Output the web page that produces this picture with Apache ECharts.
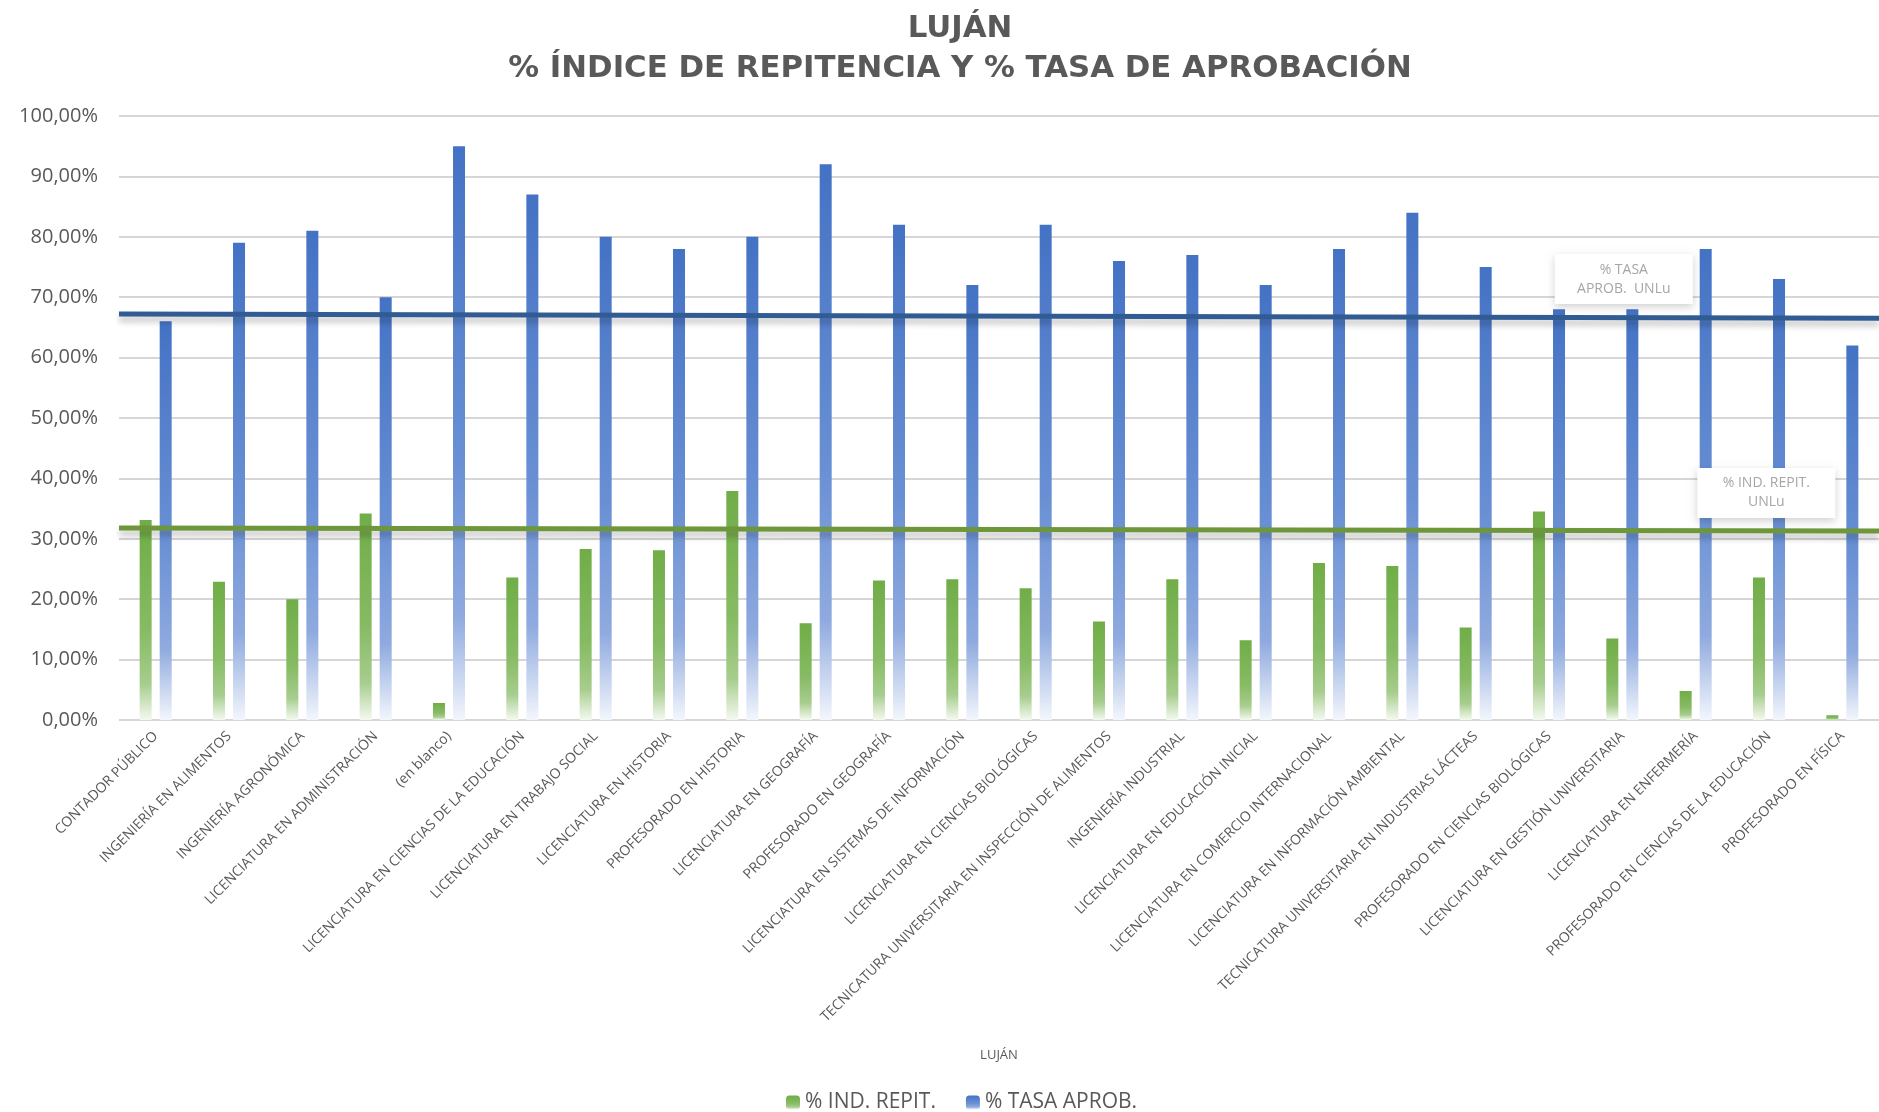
<!doctype html>
<html lang="es">
<head>
    <meta charset="UTF-8">
    <title>Luján - Índice de repitencia y tasa de aprobación</title>
    <script src="https://cdn.jsdelivr.net/npm/echarts@6/dist/echarts.min.js"></script>
    <style>
        html, body { margin: 0; padding: 0; background: #fff; }
        #mainChart { width: 1879px; height: 1112px; }
    </style>
</head>
<body>
<div id="mainChart"></div>
<script>
    // datos (en %)
    let carreras = [
        'CONTADOR PÚBLICO',
        'INGENIERÍA EN ALIMENTOS',
        'INGENIERÍA AGRONÓMICA',
        'LICENCIATURA EN ADMINISTRACIÓN',
        '(en blanco)',
        'LICENCIATURA EN CIENCIAS DE LA EDUCACIÓN',
        'LICENCIATURA EN TRABAJO SOCIAL',
        'LICENCIATURA EN HISTORIA',
        'PROFESORADO EN HISTORIA',
        'LICENCIATURA EN GEOGRAFÍA',
        'PROFESORADO EN GEOGRAFÍA',
        'LICENCIATURA EN SISTEMAS DE INFORMACIÓN',
        'LICENCIATURA EN CIENCIAS BIOLÓGICAS',
        'TECNICATURA UNIVERSITARIA EN INSPECCIÓN DE ALIMENTOS',
        'INGENIERÍA INDUSTRIAL',
        'LICENCIATURA EN EDUCACIÓN INICIAL',
        'LICENCIATURA EN COMERCIO INTERNACIONAL',
        'LICENCIATURA EN INFORMACIÓN AMBIENTAL',
        'TECNICATURA UNIVERSITARIA EN INDUSTRIAS LÁCTEAS',
        'PROFESORADO EN CIENCIAS BIOLÓGICAS',
        'LICENCIATURA EN GESTIÓN UNIVERSITARIA',
        'LICENCIATURA EN ENFERMERÍA',
        'PROFESORADO EN CIENCIAS DE LA EDUCACIÓN',
        'PROFESORADO EN FÍSICA'
    ];
    let indRepit = [33.1, 22.9, 20.0, 34.2, 2.8, 23.6, 28.3, 28.1, 37.9, 16.0, 23.1, 23.3,
        21.8, 16.3, 23.3, 13.2, 26.0, 25.5, 15.3, 34.5, 13.5, 4.8, 23.6, 0.8];
    let tasaAprob = [66, 79, 81, 70, 95, 87, 80, 78, 80, 92, 82, 72,
        82, 76, 77, 72, 78, 84, 75, 68, 68, 78, 73, 62];
    // promedios UNLu (inicio y fin de la recta)
    let tasaUNLu = [67.2, 66.5];
    let repitUNLu = [31.8, 31.3];
    let yTicks = [0, 10, 20, 30, 40, 50, 60, 70, 80, 90, 100];

    let myChart = echarts.init(document.getElementById('mainChart'));
    let gray = '#595959';
    let font = '"Open Sans", sans-serif';

    function grad(c0, c1, c2, c3) {
        return new echarts.graphic.LinearGradient(0, 0, 0, 1, [
            {offset: 0, color: c0},
            {offset: 0.55, color: c1},
            {offset: 0.82, color: c2},
            {offset: 1, color: c3}
        ]);
    }

    function noteLabel(text, x, y) {
        return {
            coord: [x, y],
            symbol: 'rect',
            symbolSize: [138, 50],
            itemStyle: {
                color: '#ffffff',
                shadowBlur: 8,
                shadowColor: 'rgba(0,0,0,0.18)',
                shadowOffsetY: 3
            },
            label: {
                show: true,
                position: 'inside',
                formatter: text,
                color: '#A6A6A6',
                fontSize: 14,
                lineHeight: 19,
                fontFamily: font
            }
        };
    }

    let option = {
        backgroundColor: '#ffffff',
        title: {
            text: 'LUJÁN\n% ÍNDICE DE REPITENCIA Y % TASA DE APROBACIÓN',
            left: 955,
            top: 4,
            textAlign: 'center',
            textStyle: {
                color: gray,
                fontSize: 30.8,
                fontWeight: 'bold',
                lineHeight: 40,
                fontFamily: '"DejaVu Sans", sans-serif'
            }
        },
        legend: {
            data: ['% IND. REPIT.', '% TASA APROB.'],
            left: 781,
            top: 1087,
            itemWidth: 14,
            itemHeight: 14,
            itemGap: 30,
            textStyle: {color: gray, fontSize: 21, fontFamily: font}
        },
        grid: {left: 119, right: -9, top: 116, bottom: 392},
        xAxis: [{
            type: 'category',
            data: carreras,
            name: 'LUJÁN',
            nameLocation: 'middle',
            nameGap: 329,
            nameTextStyle: {color: gray, fontSize: 13, fontFamily: font},
            axisLine: {show: false},
            axisTick: {show: false},
            axisLabel: {
                rotate: 45,
                interval: 0,
                margin: 14,
                color: gray,
                fontSize: 14,
                fontFamily: font
            }
        }, {
            type: 'value',
            min: 0,
            max: 1,
            show: false
        }],
        yAxis: {
            type: 'value',
            min: yTicks[0],
            max: yTicks[yTicks.length - 1],
            interval: 10,
            axisLine: {show: false},
            axisTick: {show: false},
            axisLabel: {
                color: gray,
                fontSize: 20,
                margin: 21,
                fontFamily: font,
                formatter: function (v) {
                    return v.toFixed(2).replace('.', ',') + '%';
                }
            },
            splitLine: {lineStyle: {color: '#D6D6D6', width: 2}}
        },
        series: [{
            name: '% IND. REPIT.',
            type: 'bar',
            data: indRepit,
            barWidth: 12,
            barGap: '67%',
            z: 2,
            itemStyle: {color: grad('#70AD47', '#86BB63', '#A7CD8D', '#F4F9F0')}
        }, {
            name: '% TASA APROB.',
            type: 'bar',
            data: tasaAprob,
            barWidth: 12,
            z: 2,
            itemStyle: {color: grad('#4472C4', '#6990D4', '#8FAADF', '#F3F6FC')}
        }, {
            name: '% TASA APROB. UNLu',
            type: 'line',
            xAxisIndex: 1,
            data: [[0, tasaUNLu[0]], [1, tasaUNLu[1]]],
            symbol: 'none',
            z: 5,
            lineStyle: {
                color: '#315C93',
                width: 5,
                shadowColor: 'rgba(0,0,0,0.25)',
                shadowBlur: 6,
                shadowOffsetY: 5
            },
            markPoint: {
                silent: true,
                data: [noteLabel('% TASA\nAPROB.  UNLu', 0.855, 73.0)]
            }
        }, {
            name: '% IND. REPIT. UNLu',
            type: 'line',
            xAxisIndex: 1,
            data: [[0, repitUNLu[0]], [1, repitUNLu[1]]],
            symbol: 'none',
            z: 5,
            lineStyle: {
                color: '#6E963A',
                width: 5,
                shadowColor: 'rgba(0,0,0,0.25)',
                shadowBlur: 6,
                shadowOffsetY: 5
            },
            markPoint: {
                silent: true,
                data: [noteLabel('% IND. REPIT.\nUNLu', 0.936, 37.6)]
            }
        }]
    };

    option && myChart.setOption(option);
</script>
</body>
</html>
